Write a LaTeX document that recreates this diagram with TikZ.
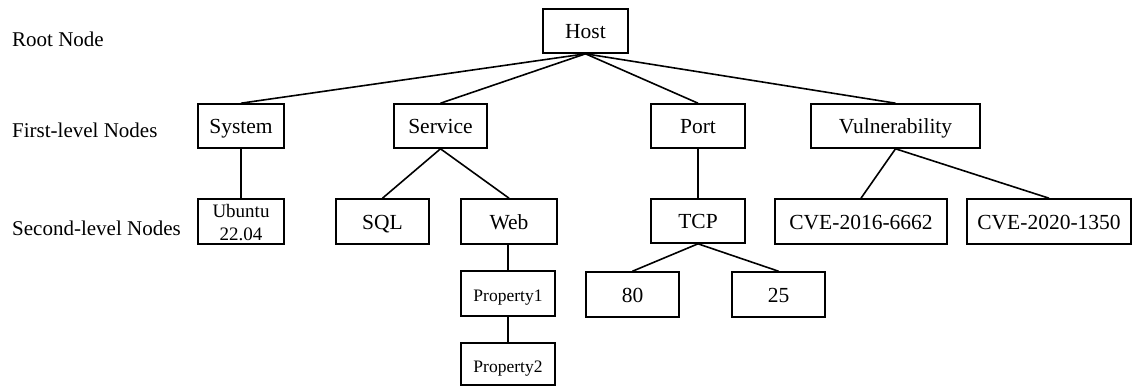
\documentclass[tikz,border=0pt]{standalone}
\usepackage{fontspec}
\setmainfont{Liberation Serif}
\tikzset{
  box/.style={draw, line width=1.6pt, inner sep=0pt, minimum height=44pt, text height=16pt, text depth=1pt, font=\fontsize{21.5}{24}\selectfont},
  smallbox/.style={box, text height=16pt, text depth=0pt, font=\fontsize{17.5}{20}\selectfont},
  ubox/.style={box, font=\fontsize{19}{23}\selectfont, align=center, text height=37pt, text depth=0pt},
  lbl/.style={anchor=base west, inner sep=0pt, font=\fontsize{21}{24}\selectfont},
  edge/.style={line width=1.6pt}
}
\begin{document}
\begin{tikzpicture}[x=1pt,y=-1pt]
\useasboundingbox (0,0) rectangle (1132,386);
% level labels
\node[lbl] (lroot) at (12,46) {Root Node};
\node[lbl] (lfirst) at (12,137) {First-level Nodes};
\node[lbl] (lsecond) at (12,235) {Second-level Nodes};
% nodes
\node[box, minimum width=85pt] (host) at (585.5,31) {Host};
\node[box, minimum width=86pt] (system) at (241,126) {System};
\node[box, minimum width=93pt] (service) at (440.5,126) {Service};
\node[box, minimum width=94pt] (port) at (698,126) {Port};
\node[box, minimum width=169pt] (vuln) at (895.5,126) {Vulnerability};
\node[ubox, minimum width=86pt, minimum height=45pt] (ubuntu) at (241,221.5) {Ubuntu\\22.04};
\node[box, minimum width=93pt, minimum height=45pt] (sql) at (382.5,221.5) {SQL};
\node[box, minimum width=96pt, minimum height=45pt] (web) at (509,221.5) {Web};
\node[box, minimum width=94pt] (tcp) at (698,221) {TCP};
\node[box, minimum width=172pt, minimum height=45pt] (cve1) at (861,221.5) {CVE-2016-6662};
\node[box, minimum width=164pt, minimum height=45pt] (cve2) at (1049,221.5) {CVE-2020-1350};
\node[smallbox, minimum width=94pt, minimum height=45pt] (prop1) at (508,293.5) {Property1};
\node[smallbox, minimum width=94pt, minimum height=42pt] (prop2) at (508,364) {Property2};
\node[box, minimum width=93pt, minimum height=45pt] (n80) at (632.5,294.5) {80};
\node[box, minimum width=93pt, minimum height=45pt] (n25) at (778.5,294.5) {25};
% edges
\draw[edge] (host.south) -- (system.north);
\draw[edge] (host.south) -- (service.north);
\draw[edge] (host.south) -- (port.north);
\draw[edge] (host.south) -- (vuln.north);
\draw[edge] (system.south) -- (ubuntu.north);
\draw[edge] (service.south) -- (sql.north);
\draw[edge] (service.south) -- (web.north);
\draw[edge] (web.south -| prop1.north) -- (prop1.north);
\draw[edge] (prop1.south) -- (prop2.north);
\draw[edge] (port.south) -- (tcp.north);
\draw[edge] (tcp.south) -- (n80.north);
\draw[edge] (tcp.south) -- (n25.north);
\draw[edge] (vuln.south) -- (cve1.north);
\draw[edge] (vuln.south) -- (cve2.north);
\end{tikzpicture}
\end{document}
